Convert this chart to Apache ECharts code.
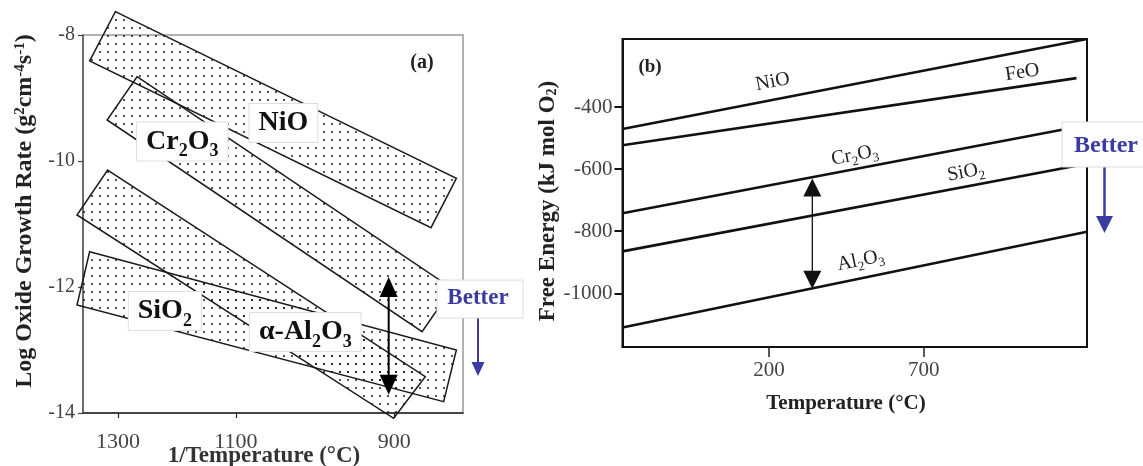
<!DOCTYPE html>
<html>
<head>
<meta charset="utf-8">
<script src="https://cdn.jsdelivr.net/npm/echarts@6/dist/echarts.min.js"></script>
<style>
  html, body { margin: 0; padding: 0; background: #fff; }
  #chart { width: 1143px; height: 466px; }
</style>
</head>
<body>
<div id="chart"></div>
<script>
// ---- Panel (a): oxide growth-rate bands; x = 1000/T (K^-1), y = log rate ----
const growthTickTemps = [1300, 1100, 900];
const growthTicks = [-8, -10, -12, -14];
const bandNiO   = [[0.6337, -7.630], [0.9012, -10.275], [0.8813, -11.059], [0.6135, -8.413]];
const bandCr2O3 = [[0.6507, -8.662], [0.8978, -12.022], [0.8743, -12.710], [0.6272, -9.349]];
const bandAl2O3 = [[0.6276, -10.143], [0.8768, -13.424], [0.8520, -14.084], [0.6036, -10.857]];
const bandSiO2  = [[0.6135, -11.440], [0.9012, -13.000], [0.8912, -13.820], [0.6036, -12.286]];
const bandNames = ['NiO', 'Cr2O3', 'α-Al2O3', 'SiO2'];
const bandLabelAt = [[0.7655, -9.397], [0.6862, -9.690], [0.7827, -12.714], [0.6725, -12.381]];
const growthSpan = [[0.8481, -11.84], [0.8481, -13.71]];

// ---- Panel (b): free energy of formation vs temperature ----
const energyTickTemps = [200, 700];
const energyTicks = [-400, -600, -800, -1000];
const lineNiO   = [[-273, -471], [1227, -181]];
const lineFeO   = [[-273, -523], [1193, -307]];
const lineCr2O3 = [[-273, -742], [1227, -458]];
const lineSiO2  = [[-273, -865], [1227, -583]];
const lineAl2O3 = [[-273, -1110], [1227, -802]];
const lineNames = ['NiO', 'FeO', 'Cr2O3', 'SiO2', 'Al2O3'];
const lineLabelAt = [[212, -319], [1018, -289], [477, -555], [836, -610], [496, -894]];
const energySpan = [[340, -630], [340, -985]];

const SERIF = '"Liberation Serif", "Times New Roman", serif';
const BLUE = '#3b3ba0';

const bands = [bandNiO, bandCr2O3, bandAl2O3, bandSiO2];
const energyLines = [lineNiO, lineFeO, lineCr2O3, lineSiO2, lineAl2O3];

function invT(tc) { return 1000 / (tc + 273.15); }

// chemical formula -> rich text with subscript digits
function formula(name) {
  return name.replace(/(\D+)|(\d+)/g, (m, a, d) => a ? '{m|' + a + '}' : '{s|' + d + '}');
}

// stipple fill for the bands
const dotTile = document.createElement('canvas');
dotTile.width = 8; dotTile.height = 8;
(function () {
  const g = dotTile.getContext('2d');
  g.fillStyle = '#1a1a1a';
  g.beginPath(); g.arc(4, 4, 1.0, 0, Math.PI * 2); g.fill();
})();
const dotFill = { image: dotTile, repeat: 'repeat' };

function doubleArrow(a, b, headLen, headW, color, lw) {
  const dir = b[1] > a[1] ? 1 : -1;
  return {
    type: 'group',
    children: [
      { type: 'line', shape: { x1: a[0], y1: a[1] + dir * headLen * 0.6, x2: b[0], y2: b[1] - dir * headLen * 0.6 },
        style: { stroke: color, lineWidth: lw } },
      { type: 'polygon', shape: { points: [[a[0], a[1]], [a[0] - headW / 2, a[1] + dir * headLen], [a[0] + headW / 2, a[1] + dir * headLen]] },
        style: { fill: color } },
      { type: 'polygon', shape: { points: [[b[0], b[1]], [b[0] - headW / 2, b[1] - dir * headLen], [b[0] + headW / 2, b[1] - dir * headLen]] },
        style: { fill: color } }
    ]
  };
}

function downArrow(x, y1, y2, headLen, headW, color, lw) {
  return {
    type: 'group',
    children: [
      { type: 'line', shape: { x1: x, y1: y1, x2: x, y2: y2 - headLen * 0.6 }, style: { stroke: color, lineWidth: lw } },
      { type: 'polygon', shape: { points: [[x, y2], [x - headW / 2, y2 - headLen], [x + headW / 2, y2 - headLen]] }, style: { fill: color } }
    ]
  };
}

const chart = echarts.init(document.getElementById('chart'), null, { renderer: 'canvas', width: 1143, height: 466 });

const option = {
  animation: false,
  backgroundColor: '#fff',
  grid: [
    { left: 83, top: 35, width: 380, height: 378, show: true, borderColor: '#999', borderWidth: 1.5 },
    { left: 622.5, top: 39, width: 464.5, height: 308, show: true, borderColor: '#111', borderWidth: 2 }
  ],
  xAxis: [
    {
      gridIndex: 0, type: 'value', min: 0.6083, max: 0.9064,
      axisLine: { show: true, onZero: false, lineStyle: { color: '#222', width: 1.5 } },
      axisTick: { show: true, customValues: growthTickTemps.map(invT), length: 5, lineStyle: { color: '#222', width: 1.2 } },
      axisLabel: {
        customValues: growthTickTemps.map(invT),
        formatter: v => String(Math.round(1000 / v - 273.15)),
        fontFamily: SERIF, fontSize: 22, color: '#444', margin: 18
      },
      splitLine: { show: false }
    },
    {
      gridIndex: 1, type: 'value', min: -273, max: 1227,
      axisLine: { show: true, onZero: false, lineStyle: { color: '#111', width: 2 } },
      axisTick: { show: true, customValues: energyTickTemps, length: 10, lineStyle: { color: '#222', width: 1.5 } },
      axisLabel: { customValues: energyTickTemps, formatter: v => String(v), fontFamily: SERIF, fontSize: 21, color: '#444', margin: 13 },
      splitLine: { show: false }
    }
  ],
  yAxis: [
    {
      gridIndex: 0, type: 'value', min: -14, max: -8, interval: 2,
      axisLine: { show: true, onZero: false, lineStyle: { color: '#555', width: 1.5 } },
      axisTick: { show: true, customValues: growthTicks, length: 5, lineStyle: { color: '#444', width: 1.2 } },
      axisLabel: { customValues: growthTicks, formatter: v => String(v), fontFamily: SERIF, fontSize: 20, color: '#444', margin: 8 },
      splitLine: { show: false }
    },
    {
      gridIndex: 1, type: 'value', min: -1173, max: -181,
      axisLine: { show: true, onZero: false, lineStyle: { color: '#111', width: 2 } },
      axisTick: { show: true, customValues: energyTicks, length: 8, lineStyle: { color: '#111', width: 2 } },
      axisLabel: { customValues: energyTicks, formatter: v => String(v), fontFamily: SERIF, fontSize: 21, color: '#444', margin: 10 },
      splitLine: { show: false }
    }
  ],
  series: [
    // stippled growth-rate bands
    {
      type: 'custom', xAxisIndex: 0, yAxisIndex: 0, silent: true, clip: false, z: 2,
      data: bands.map((b, i) => [b[0][0], b[0][1], i]),
      encode: { x: 0, y: 1 },
      renderItem: function (params, api) {
        const pts = bands[api.value(2)].map(p => api.coord(p));
        return { type: 'polygon', shape: { points: pts }, style: { fill: dotFill, stroke: '#1a1a1a', lineWidth: 1.5 } };
      }
    },
    // band labels
    {
      type: 'custom', xAxisIndex: 0, yAxisIndex: 0, silent: true, clip: false, z: 5,
      data: bandLabelAt.map((p, i) => [p[0], p[1], i]),
      encode: { x: 0, y: 1 },
      renderItem: function (params, api) {
        const p = api.coord([api.value(0), api.value(1)]);
        return {
          type: 'text', x: p[0], y: p[1],
          style: {
            text: formula(bandNames[api.value(2)]),
            align: 'center', verticalAlign: 'middle',
            fontFamily: SERIF, fontWeight: 'bold', fontSize: 28, fill: '#111',
            backgroundColor: '#fff', borderColor: '#dedede', borderWidth: 1,
            padding: [0, 9, 0, 9],
            rich: {
              m: { fontFamily: SERIF, fontWeight: 'bold', fontSize: 28, lineHeight: 38, fill: '#111' },
              s: { fontFamily: SERIF, fontWeight: 'bold', fontSize: 18, lineHeight: 18, verticalAlign: 'bottom', fill: '#111' }
            }
          }
        };
      }
    },
    // range arrow in (a)
    {
      type: 'custom', xAxisIndex: 0, yAxisIndex: 0, silent: true, clip: false, z: 6,
      data: [[growthSpan[0][0], growthSpan[0][1]]],
      encode: { x: 0, y: 1 },
      renderItem: function (params, api) {
        return doubleArrow(api.coord(growthSpan[0]), api.coord(growthSpan[1]), 20, 18, '#000', 2);
      }
    },
    // Ellingham lines
    ...energyLines.map((d, i) => ({
      type: 'line', name: lineNames[i], xAxisIndex: 1, yAxisIndex: 1, data: d,
      symbol: 'none', silent: true, z: 3,
      lineStyle: { color: '#111', width: 2.6 }
    })),
    // line labels, tilted with their line
    {
      type: 'custom', xAxisIndex: 1, yAxisIndex: 1, silent: true, clip: false, z: 5,
      data: lineLabelAt.map((p, i) => [p[0], p[1], i]),
      encode: { x: 0, y: 1 },
      renderItem: function (params, api) {
        const i = api.value(2);
        const p = api.coord([api.value(0), api.value(1)]);
        const a = api.coord(energyLines[i][0]), b = api.coord(energyLines[i][1]);
        const rot = -Math.atan2(b[1] - a[1], b[0] - a[0]);
        return {
          type: 'text', x: p[0], y: p[1], rotation: rot,
          style: {
            text: formula(lineNames[i]),
            align: 'center', verticalAlign: 'middle',
            fontFamily: SERIF, fontSize: 20, fill: '#222',
            rich: {
              m: { fontFamily: SERIF, fontSize: 20, lineHeight: 26, fill: '#222' },
              s: { fontFamily: SERIF, fontSize: 13, lineHeight: 13, verticalAlign: 'bottom', fill: '#222' }
            }
          }
        };
      }
    },
    // range arrow in (b)
    {
      type: 'custom', xAxisIndex: 1, yAxisIndex: 1, silent: true, clip: false, z: 6,
      data: [[energySpan[0][0], energySpan[0][1]]],
      encode: { x: 0, y: 1 },
      renderItem: function (params, api) {
        return doubleArrow(api.coord(energySpan[0]), api.coord(energySpan[1]), 18, 18, '#111', 1.3);
      }
    }
  ],
  graphic: [
    // axis titles
    {
      type: 'text', x: 25, y: 211, rotation: Math.PI / 2, z: 10,
      style: {
        text: 'Log Oxide Growth Rate (g{sup|2}cm{sup|-4}s{sup|-1})',
        align: 'center', verticalAlign: 'middle', textAlign: 'center', textVerticalAlign: 'middle',
        fontFamily: SERIF, fontWeight: 'bold', fontSize: 24, fill: '#222',
        rich: { sup: { fontFamily: SERIF, fontWeight: 'bold', fontSize: 15, verticalAlign: 'top', lineHeight: 15, fill: '#222' } }
      }
    },
    {
      type: 'text', x: 264, y: 456, z: 10,
      style: {
        text: '1/Temperature (°C)', align: 'center', verticalAlign: 'middle', textAlign: 'center', textVerticalAlign: 'middle',
        fontFamily: SERIF, fontWeight: 'bold', fontSize: 23, fill: '#333'
      }
    },
    {
      type: 'text', x: 548, y: 201, rotation: Math.PI / 2, z: 10,
      style: {
        text: 'Free Energy (kJ mol O{sub|2})',
        align: 'center', verticalAlign: 'middle', textAlign: 'center', textVerticalAlign: 'middle',
        fontFamily: SERIF, fontWeight: 'bold', fontSize: 23, fill: '#222',
        rich: { sub: { fontFamily: SERIF, fontWeight: 'bold', fontSize: 14, verticalAlign: 'bottom', lineHeight: 14, fill: '#222' } }
      }
    },
    {
      type: 'text', x: 846, y: 404, z: 10,
      style: {
        text: 'Temperature (°C)', align: 'center', verticalAlign: 'middle', textAlign: 'center', textVerticalAlign: 'middle',
        fontFamily: SERIF, fontWeight: 'bold', fontSize: 21, fill: '#222'
      }
    },
    // panel tags
    {
      type: 'text', x: 422, y: 63, z: 10,
      style: { text: '(a)', align: 'center', verticalAlign: 'middle', textAlign: 'center', textVerticalAlign: 'middle',
        fontFamily: SERIF, fontWeight: 'bold', fontSize: 20, fill: '#222' }
    },
    {
      type: 'text', x: 650, y: 67, z: 10,
      style: { text: '(b)', align: 'center', verticalAlign: 'middle', textAlign: 'center', textVerticalAlign: 'middle',
        fontFamily: SERIF, fontWeight: 'bold', fontSize: 19, fill: '#222' }
    },
    // "Better" callouts
    {
      type: 'rect', shape: { x: 437, y: 280, width: 86, height: 38 }, z: 20,
      style: { fill: '#fff', stroke: '#dcdcdc', lineWidth: 1 }
    },
    {
      type: 'text', x: 478, y: 298, z: 21,
      style: { text: 'Better', align: 'center', verticalAlign: 'middle', textAlign: 'center', textVerticalAlign: 'middle',
        fontFamily: SERIF, fontWeight: 'bold', fontSize: 23, fill: BLUE }
    },
    Object.assign(downArrow(478, 315, 376, 14, 13, BLUE, 2), { z: 21 }),
    {
      type: 'rect', shape: { x: 1062, y: 122, width: 90, height: 45 }, z: 20,
      style: { fill: '#fff', stroke: '#dcdcdc', lineWidth: 1 }
    },
    {
      type: 'text', x: 1106, y: 146, z: 21,
      style: { text: 'Better', align: 'center', verticalAlign: 'middle', textAlign: 'center', textVerticalAlign: 'middle',
        fontFamily: SERIF, fontWeight: 'bold', fontSize: 24, fill: BLUE }
    },
    Object.assign(downArrow(1104.5, 163, 233, 17, 17, BLUE, 2.5), { z: 21 })
  ]
};

chart.setOption(option);
</script>
</body>
</html>
